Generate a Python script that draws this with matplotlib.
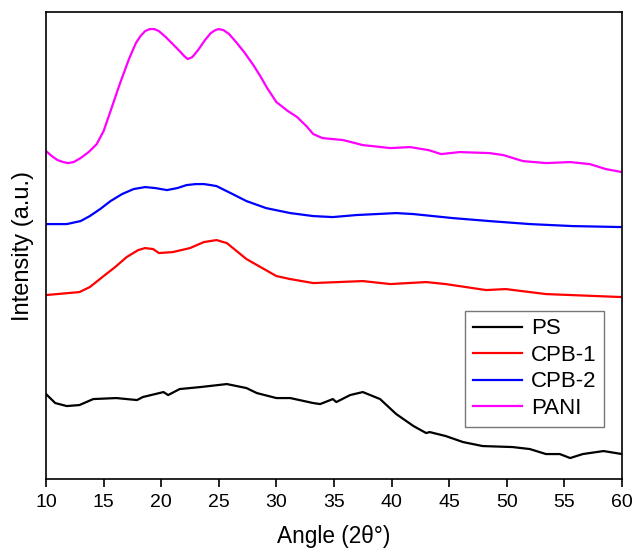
import numpy as np
import matplotlib
matplotlib.use("Agg")
import matplotlib.pyplot as plt

plt.rcParams['font.family'] = ['Liberation Sans', 'DejaVu Sans']

# Data (intensity in arbitrary units)
psAngle = [10, 10.8, 11.8, 12.9, 14.1, 16.1, 17.9, 18.4, 20.2, 20.6, 21.6, 23.4,
           25.7, 27.4, 28.3, 30.0, 31.2, 33.2, 33.8, 34.9, 35.2, 36.4, 37.5,
           39.0, 40.4, 41.9, 43.0, 43.3, 44.7, 46.2, 47.9, 50.5, 52.0, 53.4,
           54.6, 55.5, 56.6, 58.4, 60]
psValue = [85, 76, 73, 74, 80, 81, 79, 82, 87, 84, 90, 92,
           95, 91, 86, 81, 81, 76, 75, 80, 77, 84, 87,
           80, 65, 53, 46, 47, 43, 37, 33, 32, 30, 25,
           25, 21, 25, 28, 25]

cpb1Angle = [10, 12.9, 13.8, 15.0, 16.0, 17.0, 18.0, 18.6, 19.3, 19.8, 21.0,
             22.5, 23.7, 24.8, 25.7, 27.4, 30.0, 31.2, 33.2, 37.5, 39.9, 43.0,
             44.7, 48.2, 49.9, 53.4, 60]
cpb1Value = [184, 187, 192, 203, 212, 222, 229, 231, 230, 226, 227,
             231, 237, 239, 236, 220, 203, 200, 196, 198, 195, 197,
             195, 189, 190, 185, 182]

cpb2Angle = [10, 11.8, 13.0, 13.8, 14.7, 15.6, 16.6, 17.6, 18.6, 19.5, 20.5,
             21.4, 22.2, 23.0, 23.7, 24.3, 24.8, 25.5, 26.2, 27.4, 29.1,
             31.2, 33.2, 34.9, 36.9, 40.4, 41.9, 45.3, 48.5, 52.0, 55.7, 60]
cpb2Value = [255, 255, 258, 263, 270, 278, 285, 290, 292, 291, 289,
             291, 294, 295, 295, 294, 293, 289, 285, 278, 271,
             266, 263, 262, 264, 266, 265, 261, 258, 255, 253, 252]

paniAngle = [10, 10.5, 11.0, 11.5, 11.9, 12.4, 13.0, 13.7, 14.4, 15.0, 15.6,
             16.4, 17.2, 17.8, 18.2, 18.6, 19.0, 19.4, 19.8, 20.4, 21.0,
             21.6, 22.0, 22.3, 22.7, 23.2, 23.8, 24.3, 24.7, 25.0, 25.4,
             25.9, 26.5, 27.2, 28.0, 28.6, 29.2, 30.0, 31.0, 31.8, 32.6,
             33.2, 34.0, 35.8, 37.5, 39.9, 41.6, 43.2, 44.3, 45.9, 48.5,
             49.7, 51.4, 53.4, 55.5, 57.2, 58.6, 60]
paniValue = [328, 323, 319, 317, 316, 317, 321, 327, 335, 348, 368,
             395, 420, 436, 443, 448, 450, 450, 448, 442, 435,
             428, 423, 420, 422, 429, 439, 446, 449, 450, 449,
             445, 437, 427, 414, 403, 391, 377, 368, 362, 353,
             345, 341, 339, 334, 331, 332, 329, 325, 327, 326,
             324, 318, 316, 317, 315, 310, 307]

fig = plt.figure(figsize=(6.33, 5.5), dpi=100)
ax = fig.add_axes([0.0727, 0.129, 0.9099, 0.849])

ax.plot(psAngle, psValue, color='black', lw=1.6, label='PS')
ax.plot(cpb1Angle, cpb1Value, color='#ff0000', lw=1.6, label='CPB-1')
ax.plot(cpb2Angle, cpb2Value, color='#0000ff', lw=1.6, label='CPB-2')
ax.plot(paniAngle, paniValue, color='#ff00ff', lw=1.6, label='PANI')

ax.set_xlim(10, 60)
ax.set_ylim(0, 467)
ax.set_xticks(np.arange(10, 61, 5))
ax.set_yticks([])
ax.tick_params(axis='x', direction='out', length=6, width=1.2, labelsize=14,
               pad=5)
for spine in ax.spines.values():
    spine.set_linewidth(1.2)

ax.set_xlabel('Angle (2θ°)', fontsize=16.3, labelpad=10)
ax.set_ylabel('Intensity (a.u.)', fontsize=17, labelpad=9)

leg = ax.legend(loc='lower right', bbox_to_anchor=(0.969, 0.112), fontsize=16,
                frameon=True, fancybox=False, edgecolor='#555555',
                handlelength=2.2, handletextpad=0.4, labelspacing=0.25,
                borderpad=0.35, borderaxespad=0)
leg.get_frame().set_linewidth(1.0)

fig.savefig('out.png', dpi=100)
